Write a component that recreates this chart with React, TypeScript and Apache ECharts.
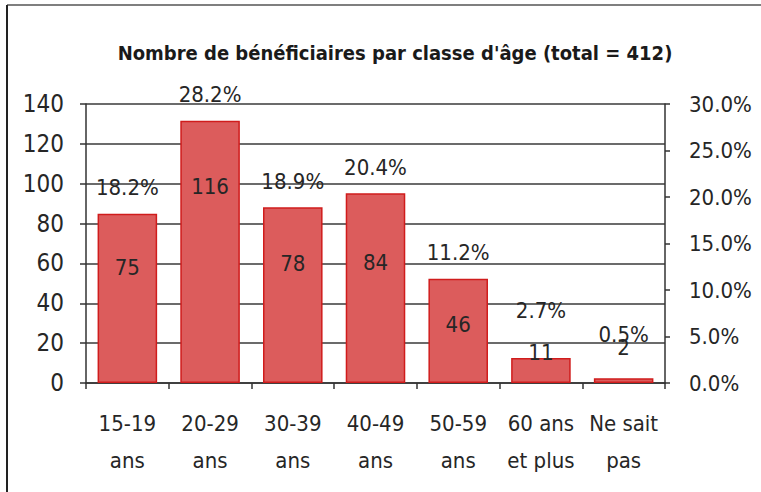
import React, { useEffect, useRef } from "react";
import * as echarts from "echarts";

const categories = ["15-19\nans", "20-29\nans", "30-39\nans", "40-49\nans", "50-59\nans", "60 ans\net plus", "Ne sait\npas"];
const counts = [75, 116, 78, 84, 46, 11, 2];
const percents = [18.2, 28.2, 18.9, 20.4, 11.2, 2.7, 0.5];
const leftTicks = { min: 0, max: 140, interval: 20 };
const rightTicks = { min: 0, max: 30, interval: 5 };
const title = "Nombre de bénéficiaires par classe d'âge (total = 412)";

// label placement (style only)
const countLabelDy = [54, 66, 56, 69, 46, -5, -31];
const pctLabelExtra = [0, 0, 0, 0, 0, 21, 18];

const FONT = "'DejaVu Sans Condensed', 'Liberation Sans', sans-serif";
const TXT = "#262626";

export default function App() {
  const ref = useRef<HTMLDivElement>(null);
  useEffect(() => {
    document.body.style.margin = "0";
    const chart = echarts.init(ref.current!, null, { renderer: "svg" });
    chart.setOption({
      animation: false,
      backgroundColor: "#ffffff",
      textStyle: { fontFamily: FONT },
      title: {
        text: title,
        left: 390,
        top: 38,
        textAlign: "center",
        textStyle: { fontFamily: FONT, fontSize: 20, fontWeight: "bold", color: "#1a1a1a" },
      },
      graphic: [
        { type: "line", shape: { x1: 7, y1: 5, x2: 761, y2: 5 }, style: { stroke: "#555", lineWidth: 1.5 } },
        { type: "line", shape: { x1: 7, y1: 5, x2: 7, y2: 492 }, style: { stroke: "#222", lineWidth: 2 } },
      ],
      grid: { left: 86, right: 96, top: 104, bottom: 109 },
      xAxis: {
        type: "category",
        data: categories,
        axisLine: { lineStyle: { color: "#333", width: 1.5 } },
        axisTick: { show: true, length: 6, lineStyle: { color: "#333", width: 1.5 } },
        axisLabel: { color: TXT, fontSize: 22, lineHeight: 37, margin: 22, fontFamily: FONT, interval: 0 },
      },
      yAxis: [
        {
          type: "value",
          ...leftTicks,
          position: "left",
          axisLine: { show: true, lineStyle: { color: "#333", width: 1.5 } },
          axisTick: { show: true, length: 6, lineStyle: { color: "#333", width: 1.5 } },
          axisLabel: { color: TXT, fontSize: 24, margin: 22, fontFamily: FONT },
          splitLine: { show: true, lineStyle: { color: "#3a3a3a", width: 1.5 } },
        },
        {
          type: "value",
          ...rightTicks,
          position: "right",
          axisLine: { show: true, lineStyle: { color: "#333", width: 1.5 } },
          axisTick: { show: true, length: 5, lineStyle: { color: "#333", width: 1.5 } },
          axisLabel: {
            color: TXT,
            fontSize: 22,
            margin: 24,
            fontFamily: FONT,
            formatter: (v: number) => v.toFixed(1) + "%",
          },
          splitLine: { show: false },
        },
      ],
      series: [
        {
          type: "bar",
          yAxisIndex: 1,
          barCategoryGap: "28%",
          data: percents.map((p, i) => ({
            value: p,
            label: { distance: 15 + pctLabelExtra[i] },
          })),
          itemStyle: { color: "#dc5c5c", borderColor: "#d01c1c", borderWidth: 1.5 },
          label: {
            show: true,
            position: "top",
            color: TXT,
            fontSize: 22,
            fontFamily: FONT,
            formatter: (p: any) => Number(p.value).toFixed(1) + "%",
          },
          z: 2,
        },
        {
          type: "bar",
          yAxisIndex: 1,
          barGap: "-100%",
          barCategoryGap: "28%",
          data: percents.map((p, i) => ({
            value: p,
            label: { position: ["50%", countLabelDy[i]] },
          })),
          itemStyle: { color: "rgba(0,0,0,0)" },
          label: {
            show: true,
            align: "center",
            verticalAlign: "middle",
            color: TXT,
            fontSize: 22,
            fontFamily: FONT,
            formatter: (p: any) => String(counts[p.dataIndex]),
          },
          silent: true,
          z: 3,
        },
      ],
    });
    return () => chart.dispose();
  }, []);
  return <div ref={ref} style={{ width: 761, height: 492 }} />;
}
